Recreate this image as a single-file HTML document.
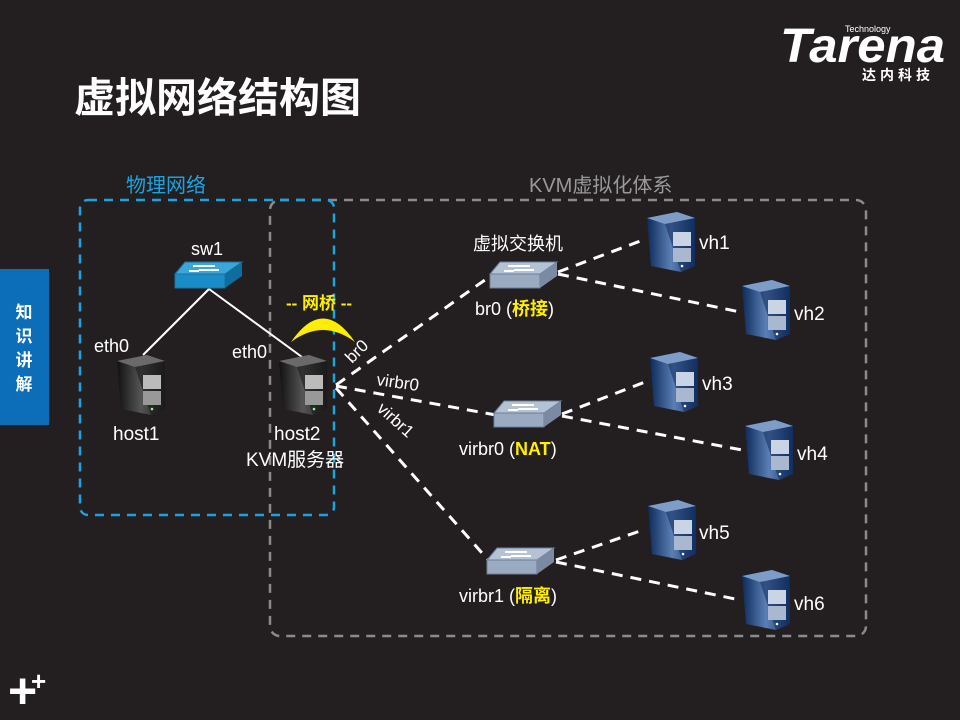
<!DOCTYPE html>
<html><head><meta charset="utf-8"><style>
html,body{margin:0;padding:0;background:#231f20;}
svg{display:block;font-family:"Liberation Sans","Noto Sans CJK SC",sans-serif;}
</style></head><body>
<svg width="960" height="720" viewBox="0 0 960 720" xmlns="http://www.w3.org/2000/svg">
<defs>
<linearGradient id="dk" x1="0" y1="0" x2="1" y2="0"><stop offset="0" stop-color="#111"/><stop offset="0.5" stop-color="#555"/><stop offset="1" stop-color="#1a1a1a"/></linearGradient>
<linearGradient id="bl" x1="0" y1="0" x2="1" y2="0"><stop offset="0" stop-color="#0d2a5a"/><stop offset="0.5" stop-color="#5a7fb5"/><stop offset="1" stop-color="#163870"/></linearGradient>
<g id="srvD">
<path d="M0,6 L30,0 L48,6 L48,54 L34,60 L4,54 Z" fill="url(#dk)"/>
<path d="M0,6 L30,0 L48,6 L18,12 Z" fill="#6a6a6a"/>
<path d="M18,12 L48,6 L48,54 L34,60 Z" fill="#1a1a1a" opacity="0.6"/>
<rect x="26" y="20" width="18" height="14" fill="#bbb"/><rect x="26" y="36" width="18" height="14" fill="#999"/>
<circle cx="35" cy="54" r="1.3" fill="#8f8"/>
</g>
<g id="srvB">
<path d="M0,6 L30,0 L48,6 L48,54 L34,60 L4,54 Z" fill="url(#bl)"/>
<path d="M0,6 L30,0 L48,6 L18,12 Z" fill="#7d9cc8"/>
<path d="M18,12 L48,6 L48,54 L34,60 Z" fill="#0b2350" opacity="0.5"/>
<rect x="26" y="20" width="18" height="14" fill="#c9d4e4"/><rect x="26" y="36" width="18" height="14" fill="#a9b8cf"/>
<circle cx="35" cy="54" r="1.3" fill="#fff"/>
</g>
<g id="swG">
<path d="M0,12 L10,0 L67,0 L50,12 Z" fill="#b4c2d6" stroke="#6d7d95"/>
<rect x="0" y="12" width="50" height="14" fill="#9aaac0" stroke="#6d7d95"/>
<path d="M50,12 L67,0 L67,14 L50,26 Z" fill="#7a8aa3"/>
<path d="M18,4 h22 M24,8 h20 M14,9 h10" stroke="#fff" stroke-width="2"/>
</g>
<g id="swB">
<path d="M0,12 L10,0 L67,0 L50,12 Z" fill="#3aa6da" stroke="#1d6f9a"/>
<rect x="0" y="12" width="50" height="14" fill="#1a8cc8" stroke="#1d6f9a"/>
<path d="M50,12 L67,0 L67,14 L50,26 Z" fill="#0f6e9e"/>
<path d="M18,4 h22 M24,8 h20 M14,9 h10" stroke="#fff" stroke-width="2"/>
</g>
</defs>

<!-- logo -->
<text x="780" y="62" font-size="48" font-weight="bold" font-style="italic" fill="#fff" textLength="165" lengthAdjust="spacingAndGlyphs">Tarena</text>
<text x="845" y="32" font-size="9" fill="#fff">Technology</text>
<text x="862" y="80" font-size="14" font-weight="bold" fill="#fff" letter-spacing="4">达内科技</text>

<text x="74" y="112" font-size="41" font-weight="bold" fill="#fff">虚拟网络结构图</text>

<rect x="0" y="269" width="49" height="156" fill="#0c6db8"/>
<text font-size="17" font-weight="bold" fill="#fff" text-anchor="middle"><tspan x="24" y="318">知</tspan><tspan x="24" y="342">识</tspan><tspan x="24" y="366">讲</tspan><tspan x="24" y="390">解</tspan></text>

<text x="8" y="708" font-size="50" font-weight="bold" fill="#fff">+</text>
<text x="31" y="690" font-size="26" font-weight="bold" fill="#fff">+</text>

<text x="126" y="192" font-size="20" fill="#1aa3e0">物理网络</text>
<text x="529" y="192" font-size="20" fill="#999">KVM虚拟化体系</text>

<rect x="270" y="200" width="596" height="436" rx="10" fill="none" stroke="#8a8a8a" stroke-width="2.5" stroke-dasharray="9,7"/>
<rect x="80" y="200" width="254" height="315" rx="8" fill="none" stroke="#1aa3e0" stroke-width="2.5" stroke-dasharray="9,7"/>

<!-- physical -->
<line x1="209" y1="289" x2="143" y2="355" stroke="#fff" stroke-width="2"/>
<line x1="209" y1="289" x2="302" y2="357" stroke="#fff" stroke-width="2"/>
<use href="#swB" x="175" y="262"/>
<text x="191" y="255" font-size="18" fill="#fff">sw1</text>
<use href="#srvD" x="117" y="355"/>
<use href="#srvD" x="279" y="355"/>
<text x="94" y="352" font-size="18" fill="#fff">eth0</text>
<text x="232" y="358" font-size="18" fill="#fff">eth0</text>
<text x="113" y="440" font-size="19" fill="#fff">host1</text>
<text x="274" y="440" font-size="19" fill="#fff">host2</text>
<text x="246" y="466" font-size="19" fill="#fff">KVM服务器</text>

<path d="M291,342 Q323,295 355,342 Q323,318 291,342 Z" fill="#ffee00"/>
<text x="286" y="309" font-size="17" font-weight="bold" fill="#ffee00">-- 网桥 --</text>

<!-- virtual lines -->
<g stroke="#fff" stroke-width="3" stroke-dasharray="11,8" fill="none">
<line x1="336" y1="385" x2="492" y2="275"/>
<line x1="336" y1="386" x2="496" y2="415"/>
<line x1="336" y1="388" x2="490" y2="562"/>
<line x1="558" y1="272" x2="643" y2="240"/>
<line x1="558" y1="274" x2="740" y2="312"/>
<line x1="562" y1="414" x2="645" y2="382"/>
<line x1="562" y1="416" x2="742" y2="450"/>
<line x1="556" y1="560" x2="643" y2="530"/>
<line x1="556" y1="562" x2="740" y2="600"/>
</g>
<text font-size="17" fill="#fff" transform="translate(352,364) rotate(-45)">br0</text>
<text font-size="17" fill="#fff" transform="translate(376,385) rotate(8)">virbr0</text>
<text font-size="17" fill="#fff" transform="translate(376,410) rotate(42)">virbr1</text>

<use href="#swG" x="490" y="262"/>
<use href="#swG" x="494" y="401"/>
<use href="#swG" x="487" y="548"/>
<text x="473" y="250" font-size="18" fill="#fff">虚拟交换机</text>
<text x="475" y="315" font-size="18" fill="#fff">br0 (<tspan fill="#ffee00" font-weight="bold">桥接</tspan>)</text>
<text x="459" y="455" font-size="18" fill="#fff">virbr0 (<tspan fill="#ffee00" font-weight="bold">NAT</tspan>)</text>
<text x="459" y="602" font-size="18" fill="#fff">virbr1 (<tspan fill="#ffee00" font-weight="bold">隔离</tspan>)</text>

<use href="#srvB" x="647" y="212"/>
<use href="#srvB" x="742" y="280"/>
<use href="#srvB" x="650" y="352"/>
<use href="#srvB" x="745" y="420"/>
<use href="#srvB" x="648" y="500"/>
<use href="#srvB" x="742" y="570"/>
<g font-size="19" fill="#fff">
<text x="699" y="249">vh1</text>
<text x="794" y="320">vh2</text>
<text x="702" y="390">vh3</text>
<text x="797" y="460">vh4</text>
<text x="699" y="539">vh5</text>
<text x="794" y="610">vh6</text>
</g>
</svg>
</body></html>
